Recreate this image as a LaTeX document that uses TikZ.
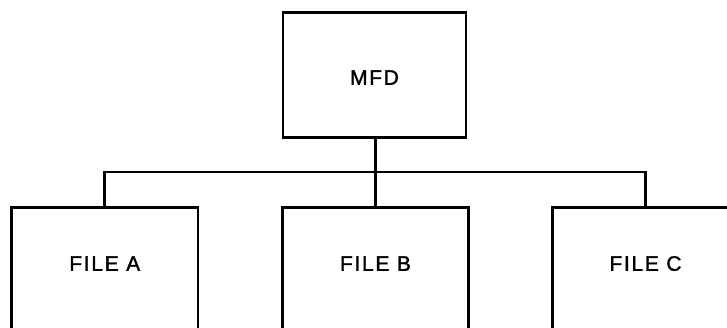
\documentclass[tikz,border=0pt]{standalone}
\usepackage{fontspec}
\setmainfont{Liberation Sans}[LetterSpace=8, FakeBold=1.5]
\begin{document}
\begin{tikzpicture}[x=1pt,y=-1pt,
  line width=2.6pt,
  box/.style={draw, rectangle, inner sep=0pt, line width=2.6pt,
    font=\fontsize{21}{24}\selectfont},
  filebox/.style={box, minimum width=186.5pt, text height=63.5pt, text depth=100pt},
  mfdbox/.style={box, minimum width=183pt, text height=72.5pt, text depth=52.5pt}]
\useasboundingbox (0,0) rectangle (727,328);
\clip (0,0) rectangle (727,328);
\fill[white] (0,0) rectangle (727,328);
\node[mfdbox, anchor=north] (mfd) at (374.5,11) {MFD};
\node[filebox, anchor=north] (filea) at (104.75,206) {FILE A};
\node[filebox, anchor=north] (fileb) at (375.5,206) {FILE B};
\node[filebox, anchor=north] (filec) at (645.5,206) {FILE C\hspace{18pt}};
\coordinate (busy) at (0,172);
\draw (mfd.south -| fileb.north) -- (fileb.north);
\draw[line cap=rect] (filea.north) |- (busy -| filec.north) -- (filec.north);
\end{tikzpicture}
\end{document}
